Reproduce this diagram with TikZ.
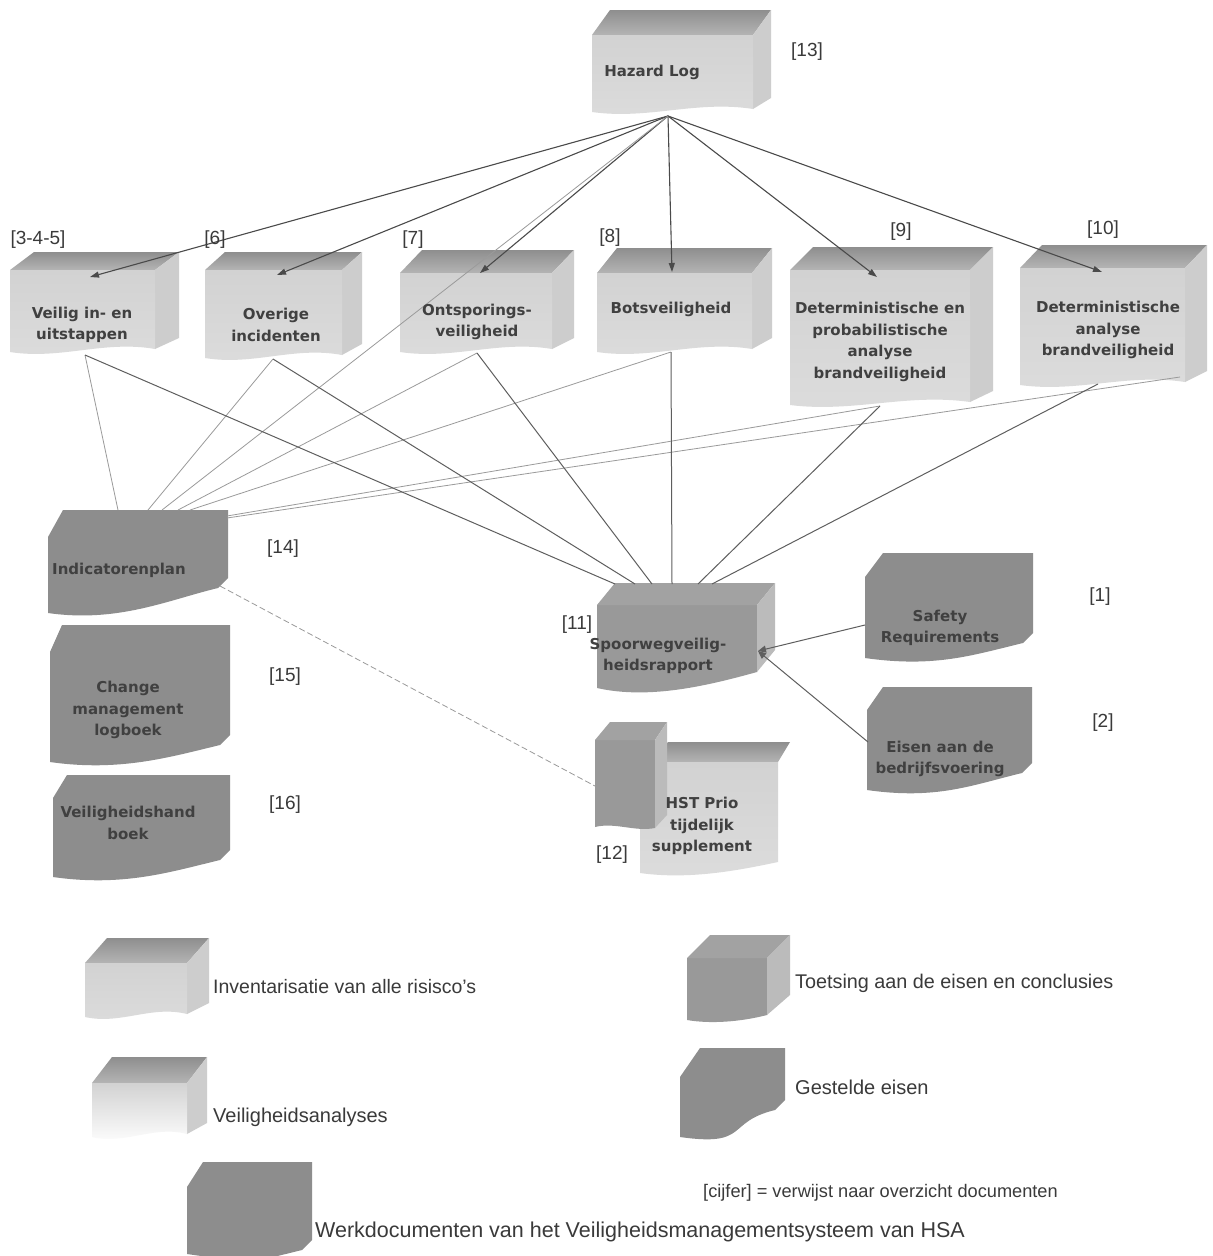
\documentclass[tikz,border=0pt]{standalone}
\usepackage{fontspec}
\setmainfont{Liberation Sans}
\newfontfamily\boxfont{DejaVu Sans}
\usetikzlibrary{arrows.meta,calc}
\definecolor{txt}{HTML}{3A3A3A}
\definecolor{boxtxtc}{HTML}{404040}
\definecolor{topdark}{HTML}{8E8E8E}
\definecolor{toplight}{HTML}{B4B4B4}
\definecolor{frontA}{HTML}{D2D2D2}
\definecolor{frontB}{HTML}{DCDCDC}
\definecolor{sidelight}{HTML}{CDCDCD}
\definecolor{darkc}{HTML}{8D8D8D}
\definecolor{toetsF}{HTML}{999999}
\definecolor{toetsT}{HTML}{A2A2A2}
\definecolor{toetsS}{HTML}{BBBBBB}
\definecolor{linedark}{HTML}{4A4A4A}
\definecolor{linemid}{HTML}{5E5E5E}
\definecolor{linelight}{HTML}{9A9A9A}
% light 3D box: #1 x0, #2 x1, #3 y back, #4 y front edge, #5 y bottom, #6 skew, #7 front bottom colour
\newcommand\lightBox[7]{%
  \shade[top color=topdark, bottom color=toplight] (#1,#4) -- ({#1+#6},#3) -- ({#2+#6},#3) -- (#2,#4) -- cycle;
  \fill[sidelight] (#2,#4) -- ({#2+#6},#3) -- ({#2+#6},{#5-14}) -- (#2,{#5-3}) -- cycle;
  \shade[top color=frontA, bottom color=#7] (#1,#4) -- (#2,#4) -- (#2,{#5-3}) .. controls ({#2-(#2-#1)*0.35},{#5-12}) and ({#1+(#2-#1)*0.35},{#5+8}) .. (#1,#5) -- cycle;
}
% dark document shape: #1 x0, #2 x1, #3 y top, #4 y left bottom, #5 y right bottom, #6 chamfer dx, #7 chamfer dy, #8 colour
\newcommand\darkShape[8]{%
  \fill[#8] ({#1+#6},#3) -- (#2,#3) -- (#2,{#5-10}) -- ({#2-10},#5) .. controls ({#2-60},{#5+12}) and ({#1+70},{#4+10}) .. (#1,#4) -- (#1,{#3+#7}) -- cycle;
}
\begin{document}
\begin{tikzpicture}[x=1pt,y=-1pt,
  boxtxt/.style={font=\boxfont\bfseries\fontsize{15}{21.5}\selectfont, text=boxtxtc, align=center, inner sep=0pt},
  reflbl/.style={font=\fontsize{19}{21}\selectfont, text=txt, inner sep=0pt},
  legtxt/.style={text=txt, anchor=west, inner sep=0pt},
  arr/.style={draw=linedark, line width=1.1pt, -{Triangle[length=9pt,width=6pt]}},
  toSpoor/.style={draw=linemid, line width=1pt},
  toIndic/.style={draw=linelight, line width=0.8pt},
  dashln/.style={draw=linelight, line width=0.8pt, dash pattern=on 6pt off 3pt},
  toReq/.style={draw=linemid, line width=1pt, -{Triangle[length=8pt,width=7pt]}}]
\useasboundingbox (0,0) rectangle (1213,1256);
\fill[white] (0,0) rectangle (1213,1256);

% ---------- boxes ----------
\lightBox{592}{753}{10}{35}{112}{18}{frontB}
\lightBox{10}{155}{252}{270}{352}{24}{frontB}
\lightBox{205}{342}{252}{270}{358}{20}{frontB}
\lightBox{400}{552}{250}{273}{352}{22}{frontB}
\lightBox{597}{752}{248}{273}{352}{20}{frontB}
\lightBox{790}{970}{247}{270}{405}{23}{frontB}
\lightBox{1020}{1185}{245}{268}{385}{22}{frontB}

\darkShape{48}{228}{510}{613}{588}{15}{27}{darkc}
\darkShape{50}{230}{625}{762}{745}{12}{27}{darkc}
\darkShape{53}{230}{775}{877}{860}{14}{23}{darkc}
\darkShape{865}{1033}{553}{658}{643}{18}{24}{darkc}
\darkShape{867}{1032}{687}{790}{773}{16}{23}{darkc}

% Spoorwegveiligheidsrapport
\fill[toetsF] (597,605) -- (757,605) -- (757,672) .. controls (710,685) and (650,700) .. (597,688) -- cycle;
\fill[toetsT] (597,605) -- (615,583) -- (775,583) -- (757,605) -- cycle;
\fill[toetsS] (757,605) -- (775,583) -- (775,650) -- (757,672) -- cycle;

% HST Prio
\shade[top color=topdark, bottom color=toplight] (652,762) -- (668,742) -- (790,742) -- (778,762) -- cycle;
\shade[top color=frontA, bottom color=frontB] (640,762) -- (778,762) -- (778,862) .. controls (740,870) and (690,880) .. (640,873) -- cycle;
\fill[toetsF] (595,740) -- (655,740) -- (655,828) .. controls (635,832) and (615,822) .. (595,827) -- cycle;
\fill[toetsT] (595,740) -- (610,722) -- (667,722) -- (655,740) -- cycle;
\fill[toetsS] (655,740) -- (667,722) -- (667,815) -- (655,828) -- cycle;

% legend shapes
\lightBox{85}{187}{938}{963}{1017}{22}{frontB}
\lightBox{92}{187}{1057}{1083}{1137}{20}{white}
\darkShape{187}{312}{1162}{1254}{1250}{16}{25}{darkc}
\fill[toetsF] (687,958) -- (767,958) -- (767,1015) .. controls (740,1022) and (710,1024) .. (687,1020) -- cycle;
\fill[toetsT] (687,958) -- (710,935) -- (790,935) -- (767,958) -- cycle;
\fill[toetsS] (767,958) -- (790,935) -- (790,995) -- (767,1015) -- cycle;
\darkShape{680}{785}{1048}{1137}{1110}{20}{29}{darkc}

% ---------- connector coordinates ----------
\coordinate (hlB) at (668,116);
\coordinate (veiligT) at (90,277);
\coordinate (overigeT) at (277,275);
\coordinate (ontspT) at (480,273);
\coordinate (botsT) at (672,272);
\coordinate (det9T) at (877,277);
\coordinate (det10T) at (1102,272);
\coordinate (veiligB) at (85,355);
\coordinate (overigeB) at (273,359);
\coordinate (ontspB) at (477,353);
\coordinate (botsB) at (671,352);
\coordinate (det9B) at (880,406);
\coordinate (det10B) at (1098,384);
\coordinate (det10BR) at (1180,377);
\coordinate (iA) at (118,510);
\coordinate (iB) at (148,510);
\coordinate (iC) at (162,510);
\coordinate (iD) at (178,510);
\coordinate (iE) at (190,510);
\coordinate (iF) at (227,516);
\coordinate (iG) at (227,518);
\coordinate (iH) at (220,586);
\coordinate (sA) at (615,584);
\coordinate (sB) at (635,584);
\coordinate (sC) at (652,584);
\coordinate (sD) at (672,584);
\coordinate (sE) at (698,584);
\coordinate (sF) at (712,584);
\coordinate (sR) at (758,651);
\coordinate (safetyL) at (865,625);
\coordinate (eisenL) at (868,742);
\coordinate (hstL) at (595,786);

% ---------- connectors ----------
\draw[arr] (hlB) -- (veiligT);
\draw[arr] (hlB) -- (overigeT);
\draw[arr] (hlB) -- (ontspT);
\draw[arr] (hlB) -- (botsT);
\draw[arr] (hlB) -- (det9T);
\draw[arr] (hlB) -- (det10T);
\draw[toIndic] (hlB) -- (iC);

\draw[toIndic] (veiligB) -- (iA);
\draw[toIndic] (overigeB) -- (iB);
\draw[toIndic] (ontspB) -- (iD);
\draw[toIndic] (botsB) -- (iE);
\draw[toIndic] (det9B) -- (iF);
\draw[toIndic] (det10BR) -- (iG);

\draw[toSpoor] (veiligB) -- (sA);
\draw[toSpoor] (overigeB) -- (sB);
\draw[toSpoor] (ontspB) -- (sC);
\draw[toSpoor] (botsB) -- (sD);
\draw[toSpoor] (det9B) -- (sE);
\draw[toSpoor] (det10B) -- (sF);

\draw[toReq] (safetyL) -- (sR);
\draw[toReq] (eisenL) -- (sR);
\draw[dashln] (iH) -- (hstL);

% ---------- texts ----------
\node[boxtxt] (hl) at (652,72) {Hazard Log};
\node[boxtxt] (veilig) at (82,325) {Veilig in- en\\uitstappen};
\node[boxtxt] (overige) at (276,325) {Overige\\incidenten};
\node[boxtxt] (ontsp) at (477,322) {Ontsporings-\\veiligheid};
\node[boxtxt] (bots) at (671,309) {Botsveiligheid};
\node[boxtxt] (det9) at (880,342) {Deterministische en\\probabilistische\\analyse\\brandveiligheid};
\node[boxtxt] (det10) at (1108,330) {Deterministische\\analyse\\brandveiligheid};
\node[boxtxt] (indic) at (119,570) {Indicatorenplan};
\node[boxtxt] (change) at (128,710) {Change\\management\\logboek};
\node[boxtxt] (handboek) at (128,823) {Veiligheidshand\\boek};
\node[boxtxt] (spoor) at (658,656) {Spoorwegveilig-\\heidsrapport};
\node[boxtxt] (safety) at (940,628) {Safety\\Requirements};
\node[boxtxt] (eisen) at (940,759) {Eisen aan de\\bedrijfsvoering};
\node[boxtxt] (hst) at (702,826) {HST Prio\\tijdelijk\\supplement};

\node[reflbl] (l13) at (807,52) {[13]};
\node[reflbl] (l345) at (38,240) {[3-4-5]};
\node[reflbl] (l6) at (215,240) {[6]};
\node[reflbl] (l7) at (413,240) {[7]};
\node[reflbl] (l8) at (610,238) {[8]};
\node[reflbl] (l9) at (901,232) {[9]};
\node[reflbl] (l10) at (1103,230) {[10]};
\node[reflbl] (l14) at (283,549) {[14]};
\node[reflbl] (l15) at (285,677) {[15]};
\node[reflbl] (l16) at (285,805) {[16]};
\node[reflbl] (l11) at (577,625) {[11]};
\node[reflbl] (l1) at (1100,597) {[1]};
\node[reflbl] (l2) at (1103,723) {[2]};
\node[reflbl] (l12) at (612,855) {[12]};

\node[legtxt, font=\fontsize{19.5}{22}\selectfont] (leg1) at (213,987) {Inventarisatie van alle risisco's};
\node[legtxt, font=\fontsize{20}{22}\selectfont] (leg2) at (213,1117) {Veiligheidsanalyses};
\node[legtxt, font=\fontsize{21.5}{24}\selectfont] (leg3) at (315,1232) {Werkdocumenten van het Veiligheidsmanagementsysteem van HSA};
\node[legtxt, font=\fontsize{19.8}{22}\selectfont] (leg4) at (795,983) {Toetsing aan de eisen en conclusies};
\node[legtxt, font=\fontsize{20}{22}\selectfont] (leg5) at (795,1087) {Gestelde eisen};
\node[legtxt, font=\fontsize{18.2}{21}\selectfont] (leg6) at (703,1193) {[cijfer] = verwijst naar overzicht documenten};
\end{tikzpicture}
\end{document}
